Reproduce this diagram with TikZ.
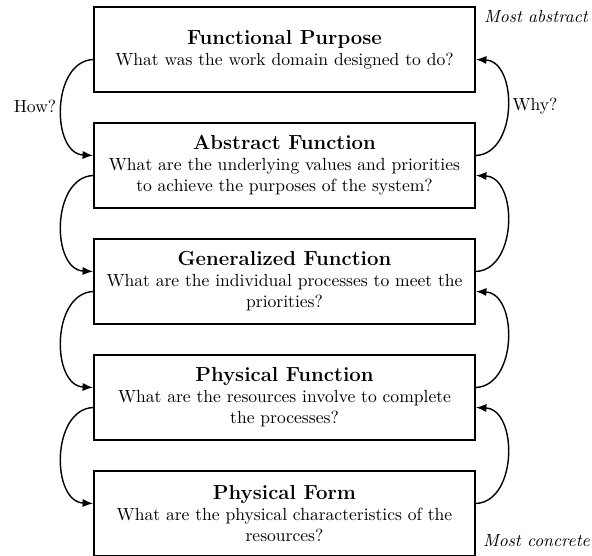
\documentclass[tikz,border=0pt]{standalone}
\usetikzlibrary{arrows.meta,calc}
\def\sc{0.5695}
\begin{document}
\begin{tikzpicture}[x=\sc pt,y=-\sc pt,
  levelbox/.style={draw,line width=1pt,minimum width={381*\sc pt},minimum height={85*\sc pt},inner sep=0pt,align=center,font=\normalsize},
  link/.style={line width=0.8pt,-{Latex[length=6pt,width=4.6pt]}},
  side/.style={font=\normalsize,inner sep=0pt}]
\useasboundingbox (0,0) rectangle (592,556);
\newcommand\boxtitle[1]{{\fontsize{11.6}{14}\selectfont\bfseries #1}}
\node[levelbox] (b1) at (284.5,49.5) {\boxtitle{Functional Purpose}\\What was the work domain designed to do?};
\node[levelbox] (b2) at (284.5,165.5) {\boxtitle{Abstract Function}\\What are the underlying values and priorities\\to achieve the purposes of the system?};
\node[levelbox] (b3) at (284.5,281.5) {\boxtitle{Generalized Function}\\What are the individual processes to meet the\\priorities?};
\node[levelbox] (b4) at (284.5,397.5) {\boxtitle{Physical Function}\\What are the resources involve to complete\\the processes?};
\node[levelbox] (b5) at (284.5,513.5) {\boxtitle{Physical Form}\\What are the physical characteristics of the\\resources?};
\node[side,anchor=east] (abs) at (588,17) {\itshape Most abstract};
\node[side,anchor=east] (con) at (590,541) {\itshape Most concrete};
\node[side] (how) at (35,106) {How?};
\node[side] (why) at (535,106) {Why?};
\foreach \a/\b in {b1/b2,b2/b3,b3/b4,b4/b5}{
  \draw[link] ($(\a.west)+(0,10)$) .. controls ($(\a.west)+(-42,12)$) and ($(\b.west)+(-42,-12)$) .. ($(\b.west)+(0,-10)$);
  \draw[link] ($(\b.east)+(0,-10)$) .. controls ($(\b.east)+(42,-12)$) and ($(\a.east)+(42,12)$) .. ($(\a.east)+(0,10)$);
}
\end{tikzpicture}
\end{document}
